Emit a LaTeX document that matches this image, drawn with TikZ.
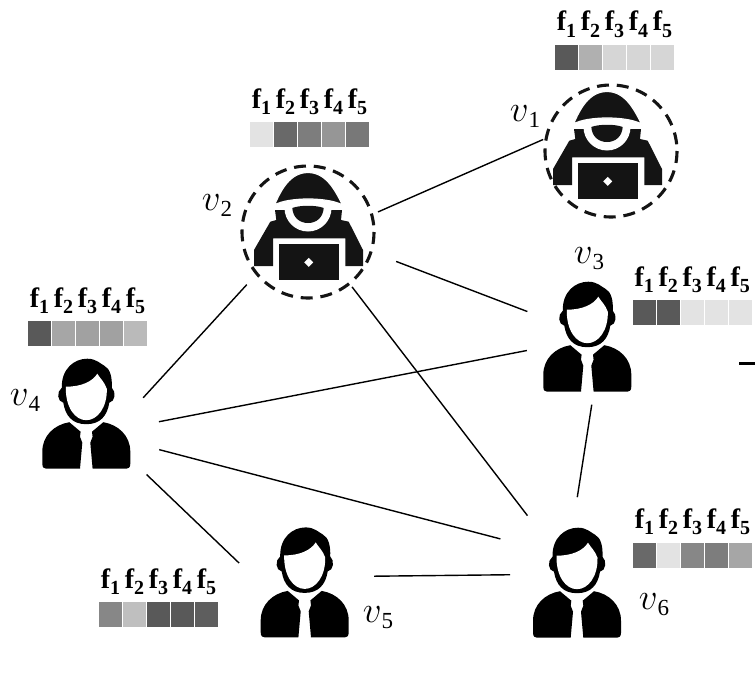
\documentclass[tikz,border=0pt]{standalone}
\usepackage{fix-cm}
\usepackage{fontspec}
\setmainfont{Liberation Serif}
\usepackage{xcolor}
\usetikzlibrary{arrows.meta,positioning}
\definecolor{ink}{RGB}{20,20,20}
\newcommand{\featbar}[4]{% name, left, top, tints
  \foreach \g [count=\i] in {#4} {
    \node[cell, fill=black!\g] (#1c\i) at ({#2+11.5+24*(\i-1)},{#3+12.5}) {};
    \node[flabel] (#1f\i) at ([yshift=14pt]#1c\i.north) {f\raisebox{-6pt}{\fontsize{20}{20}\selectfont\i}};
  }
}
\newcommand{\vname}[1]{$v$\raisebox{-6pt}{\fontsize{23}{23}\selectfont #1}}

\begin{document}
\begin{tikzpicture}[
  x=1pt, y=-1pt,
  vertex/.style={circle, minimum size=116pt, inner sep=0pt, outer sep=0pt},
  cell/.style={minimum width=23pt, minimum height=25pt, inner sep=0pt, outer sep=0pt},
  flabel/.style={anchor=base, inner sep=0pt, font=\fontsize{28}{30}\selectfont\bfseries},
  vlabel/.style={inner sep=0pt, font=\fontsize{37}{40}\selectfont},
  link/.style={line width=1.4pt},
  user/.pic={
    \fill[black] (0,10.5) .. controls (-14,10.5) and (-21,2) .. (-23,-11)
      .. controls (-29,-12) and (-30,-22) .. (-24.5,-26)
      .. controls (-25,-45) and (-12,-55) .. (1,-55)
      .. controls (10,-55) and (14,-50) .. (18,-48)
      .. controls (24,-45) and (26,-36) .. (25.5,-26)
      .. controls (30,-22) and (29,-12) .. (23,-11)
      .. controls (21,2) and (14,10.5) .. (0,10.5) -- cycle;
    \fill[white] (-20.5,-27) .. controls (-5,-27) and (6,-32) .. (11,-40)
      .. controls (14,-35) and (18,-32) .. (20.5,-25)
      .. controls (21,-6) and (11,6.5) .. (0,6.5)
      .. controls (-11,6.5) and (-21,-6) .. (-20.5,-27) -- cycle;
    \fill[black] (-17,8.5) .. controls (-32,11) and (-44,22) .. (-44,38) -- (-44,50)
      .. controls (-44,54) and (-42,55) .. (-40,55) -- (-6.3,55) -- (-4,29) -- (-6.3,23) -- (-5.7,18) -- cycle;
    \fill[black] (17,8.5) .. controls (32,11) and (44,22) .. (44,38) -- (44,50)
      .. controls (44,54) and (42,55) .. (40,55) -- (6.3,55) -- (4,29) -- (6.3,23) -- (5.7,18) -- cycle;
  },
  hacker/.pic={
    \fill[ink] (-54,18) -- (-54,34) -- (-35,34) -- (-35,6.3) -- (37.3,6.3) -- (37.3,34) -- (55,34)
      -- (55,18) -- (40.7,-10.3) -- (33,-12) -- (34,-22) -- (-33,-22) -- (-31.7,-12) -- (-37.7,-10.3) -- cycle;
    \fill[white] (0,-24) circle [radius=23.5];
    \fill[ink] (-15.7,-24) .. controls (-8,-27) and (8,-27) .. (15.7,-24)
      .. controls (15,-14) and (8,-9) .. (0,-9) .. controls (-8,-9) and (-15,-14) .. (-15.7,-24) -- cycle;
    \filldraw[ink, draw=white, line width=1.2pt] (-33.5,-27) .. controls (-27,-42) and (-18,-59.5) .. (0,-59.5)
      .. controls (18,-59.5) and (27,-42) .. (34.5,-27) .. controls (20,-35) and (-20,-35) .. (-33.5,-27) -- cycle;
    \fill[ink] (-29.3,12) rectangle (30.7,48);
    \fill[white] (0.7,25.8) -- (5.2,30.3) -- (0.7,34.8) -- (-3.8,30.3) -- cycle;
  },
  ring/.pic={
    \draw[line width=3.1pt, dash pattern=on 12pt off 7.8pt, ink] (0,0) circle [radius=66];
  }
]
\useasboundingbox (0,0) rectangle (755,685);

% graph vertices
\node[vertex] (v1) at (611,151) {};
\node[vertex] (v2) at (308,232) {};
\node[vertex] (v3) at (587.3,336.7) {};
\node[vertex] (v4) at (86.3,413.7) {};
\node[vertex] (v5) at (304.7,582.4) {};
\node[vertex] (v6) at (577,582.7) {};

% figures
\pic at (607,151) {hacker};
\pic at (v1) {ring};
\pic at (v2) {hacker};
\pic at (v2) {ring};
\pic at (v3) {user};
\pic at (v4) {user};
\pic at (v5) {user};
\pic at (v6) {user};

% edges
\draw[link, shorten <=15pt, shorten >=13.5pt] (v2.14) -- (v1.163.6);
\draw[link, shorten <=35pt, shorten >=7pt] (v2.-17.6) -- (v3.157.6);
\draw[link, shorten <=23pt, shorten >=1.3pt] (v2.218.5) -- (v4.15.7);
\draw[link, shorten <=12.4pt, shorten >=25.4pt] (v2.-51) -- (v6.126.7);
\draw[link, shorten <=4pt, shorten >=16pt] (v3.193.5) -- (v4.-11.2);
\draw[link, shorten <=10.4pt, shorten >=28pt] (v3.-84.8) -- (v6.94.1);
\draw[link, shorten <=24pt, shorten >=32pt] (v4.-31.4) -- (v6.142.1);
\draw[link, shorten <=27.6pt, shorten >=12pt] (v4.-46.7) -- (v5.169.9);
\draw[link, shorten <=11.7pt, shorten >=9.5pt] (v5.6.2) -- (v6.172.5);

% cut-off stroke at the right edge
\coordinate (stubA) at (739,363.5);
\coordinate (stubB) at (755,363.5);
\draw[line width=2.6pt] (stubA) -- (stubB);

% feature bars
\featbar{a}{555}{45}{65,31,16,16,16}
\featbar{b}{250}{122}{11,59,51,41,53}
\featbar{c}{632.7}{300}{65,65,11,11,11}
\featbar{d}{28}{321}{65,35,37,37,27}
\featbar{e}{99}{602}{47,25,65,65,63}
\featbar{g}{633}{542.7}{59,11,47,51,35}

% vertex labels
\node[vlabel] (l1) at (525,117) {\vname{1}};
\node[vlabel] (l2) at (217,206) {\vname{2}};
\node[vlabel] (l3) at (589,259) {\vname{3}};
\node[vlabel] (l4) at (25,401) {\vname{4}};
\node[vlabel] (l5) at (378,618) {\vname{5}};
\node[vlabel] (l6) at (654,605) {\vname{6}};
\end{tikzpicture}
\end{document}
